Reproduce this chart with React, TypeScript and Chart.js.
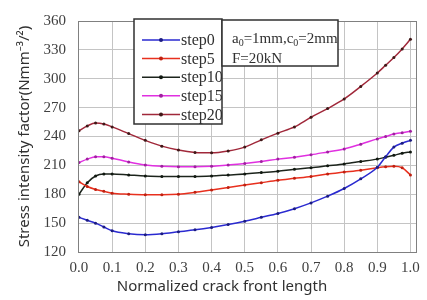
import React, { useEffect, useRef } from "react";
import { Chart, registerables } from "chart.js";

Chart.register(...registerables);

const xPositions = [0, 0.025, 0.05, 0.075, 0.1, 0.15, 0.2, 0.25, 0.3, 0.35, 0.4, 0.45, 0.5, 0.55, 0.6, 0.65, 0.7, 0.75, 0.8, 0.85, 0.9, 0.925, 0.95, 0.975, 1.0];

const step0 = [156, 153, 150, 146, 142, 139, 138, 139, 141, 143, 145.5, 148.5, 152, 156, 160, 165, 171, 178, 186, 196, 208, 219, 229, 233, 236];
const step5 = [193, 188, 185, 183, 181, 180, 179.5, 179.5, 180, 182, 184.5, 187, 189.5, 192, 194.5, 196.5, 198.5, 201, 203, 205, 207.5, 208.5, 209, 207.5, 200];
const step10 = [180, 192, 199, 201, 201, 200, 199, 198.5, 198.5, 198.5, 199, 200, 201, 202.5, 204, 206, 207.5, 209.5, 211.5, 214, 216.5, 218.5, 220.5, 222.5, 224];
const step15 = [213, 216.5, 219, 219, 217.5, 213.5, 210.5, 209, 208.5, 208.5, 209, 210.5, 212, 214, 216.5, 218.5, 221, 224, 227, 232, 237.5, 240, 242.5, 244, 245.5];
const step20 = [246, 251, 254, 253, 250, 243, 236, 230, 226, 223.5, 223, 225, 229, 236.5, 243.5, 250, 260, 269, 279, 292, 306, 314, 322, 331, 341];

const seriesLabels = ["step0", "step5", "step10", "step15", "step20"];
const seriesValues = [step0, step5, step10, step15, step20];
const lineColors = ["#2a2ad0", "#e8301e", "#1c241c", "#e030e0", "#a0283a"];
const pointColors = ["#1c1c80", "#c02010", "#101810", "#a020a0", "#401818"];

const xTickValues = [0, 0.1, 0.2, 0.3, 0.4, 0.5, 0.6, 0.7, 0.8, 0.9, 1.0];
const yTickValues = [120, 150, 180, 210, 240, 270, 300, 330, 360];

const xTitle = "Normalized crack front length";
const yTitle = "Stress intensity factor(Nmm\u207B\u00B3/\u00B2)";
const noteLine2 = "F=20kN";

const SERIF = "'Liberation Serif', 'Times New Roman', serif";
const SANS = "'Noto Sans', 'Open Sans', sans-serif";

const overlayPlugin = {
  id: "overlay",
  afterDraw(chart: any) {
    const ctx = chart.ctx as CanvasRenderingContext2D;
    const ca = chart.chartArea;
    ctx.save();
    // plot frame
    ctx.strokeStyle = "#808080";
    ctx.lineWidth = 1;
    ctx.strokeRect(Math.round(ca.left) + 0.5, Math.round(ca.top) + 0.5, Math.round(ca.right - ca.left), Math.round(ca.bottom - ca.top));

    // x axis title (offset toward the figure centre, as in the original)
    ctx.font = "15px " + SANS;
    ctx.fillStyle = "#303030";
    ctx.textAlign = "center";
    ctx.textBaseline = "middle";
    ctx.fillText(xTitle, 222, 287);

    // legend box
    const lx = ca.left + 56;
    const ly = ca.top - 2;
    const lw = 88;
    const lh = 105;
    ctx.fillStyle = "#ffffff";
    ctx.fillRect(lx, ly, lw, lh);
    ctx.save();
    ctx.beginPath();
    ctx.rect(lx, ly, lw, lh);
    ctx.clip();
    ctx.font = "16px " + SERIF;
    ctx.textBaseline = "middle";
    ctx.textAlign = "left";
    seriesLabels.forEach((lab, i) => {
      const y = ly + 21 + i * 18.6;
      ctx.strokeStyle = lineColors[i];
      ctx.lineWidth = 1.5;
      ctx.beginPath();
      ctx.moveTo(lx + 8, y);
      ctx.lineTo(lx + 46, y);
      ctx.stroke();
      ctx.fillStyle = pointColors[i];
      ctx.beginPath();
      ctx.arc(lx + 27, y, 2, 0, Math.PI * 2);
      ctx.fill();
      ctx.fillStyle = "#303030";
      ctx.fillText(lab, lx + 47, y + 1);
    });
    ctx.restore();
    ctx.strokeStyle = "#303030";
    ctx.lineWidth = 1.5;
    ctx.strokeRect(lx, ly, lw, lh);

    // note box
    const nx = lx + lw;
    const ny = ly + 1;
    const nw = 116;
    const nh = 46;
    ctx.fillStyle = "#ffffff";
    ctx.fillRect(nx, ny, nw, nh);
    ctx.save();
    ctx.beginPath();
    ctx.rect(nx, ny, nw, nh);
    ctx.clip();
    ctx.fillStyle = "#303030";
    ctx.textAlign = "left";
    ctx.textBaseline = "alphabetic";
    let cx = nx + 10;
    const base1 = ny + 23;
    const parts: [string, boolean][] = [["a", false], ["0", true], ["=1mm,c", false], ["0", true], ["=2mm", false]];
    parts.forEach(([t, sub]) => {
      ctx.font = (sub ? "10px " : "15px ") + SERIF;
      ctx.fillText(t, cx, sub ? base1 + 3 : base1);
      cx += ctx.measureText(t).width;
    });
    ctx.font = "15px " + SERIF;
    ctx.fillText(noteLine2, nx + 10, ny + 43);
    ctx.restore();
    ctx.strokeStyle = "#303030";
    ctx.lineWidth = 1.5;
    ctx.strokeRect(nx, ny, nw, nh);
    ctx.restore();
  },
};

export default function App() {
  const canvasRef = useRef<HTMLCanvasElement | null>(null);

  useEffect(() => {
    document.body.style.margin = "0";
    const canvas = canvasRef.current;
    if (!canvas) return;
    const datasets = seriesLabels.map((lab, i) => ({
      label: lab,
      data: xPositions.map((x, j) => ({ x, y: seriesValues[i][j] })),
      borderColor: lineColors[i],
      backgroundColor: lineColors[i],
      pointBackgroundColor: pointColors[i],
      pointBorderColor: pointColors[i],
      pointRadius: 1.5,
      pointBorderWidth: 0,
      borderWidth: 1.5,
      cubicInterpolationMode: "monotone" as const,
      fill: false,
    }));
    const chart = new Chart(canvas, {
      type: "line",
      data: { datasets },
      options: {
        animation: false,
        responsive: false,
        layout: { padding: { top: 15, right: 9, left: 0, bottom: 0 } },
        plugins: { legend: { display: false }, tooltip: { enabled: false } },
        scales: {
          x: {
            type: "linear",
            min: -0.003,
            max: 1.018,
            afterBuildTicks: (s: any) => {
              s.ticks = xTickValues.map((v) => ({ value: v }));
            },
            afterFit: (s: any) => {
              s.height = 48;
            },
            ticks: {
              font: { family: SERIF, size: 15 },
              color: "#404040",
              padding: 7,
              maxRotation: 0,
              autoSkip: false,
              callback: (v: any) => Number(v).toFixed(1),
            },
            grid: { color: "#c4c4c4", lineWidth: 1, drawTicks: false },
            border: { display: false },
            title: { display: false },
          },
          y: {
            type: "linear",
            min: 120,
            max: 360,
            afterBuildTicks: (s: any) => {
              s.ticks = yTickValues.map((v) => ({ value: v }));
            },
            afterFit: (s: any) => {
              s.width = 78;
            },
            ticks: {
              font: { family: SERIF, size: 15 },
              color: "#404040",
              padding: 12,
              autoSkip: false,
            },
            grid: { color: "#c4c4c4", lineWidth: 1, drawTicks: false },
            border: { display: false },
            title: {
              display: true,
              text: yTitle,
              font: { family: SANS, size: 15 },
              color: "#303030",
              padding: { top: 16, bottom: 0 },
            },
          },
        },
      },
      plugins: [overlayPlugin],
    });
    return () => chart.destroy();
  }, []);

  return (
    <div style={{ width: 427, height: 300 }}>
      <canvas ref={canvasRef} width={427} height={300} style={{ display: "block" }} />
    </div>
  );
}
